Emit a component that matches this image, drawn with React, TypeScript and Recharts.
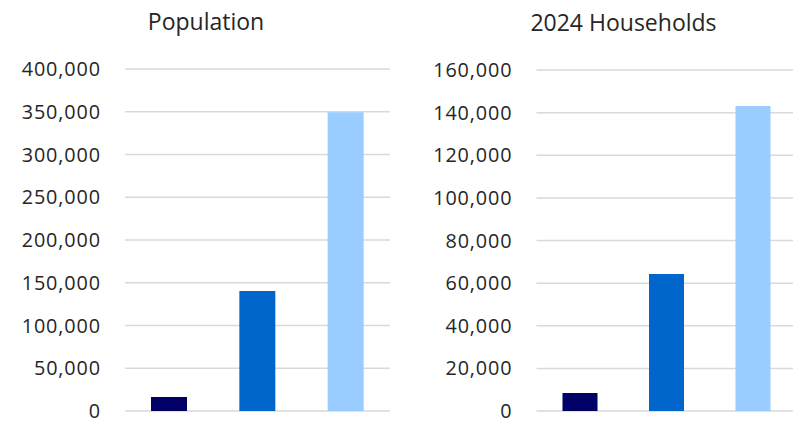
import React from 'react';
import { BarChart, Bar, XAxis, YAxis, CartesianGrid, Cell } from 'recharts';

const categories = ['Area 1', 'Area 2', 'Area 3'];
const populationValues = [16400, 140400, 349500];
const householdValues = [8400, 64300, 143100];
const barColors = ['#000066', '#0066CC', '#99CCFF'];
const populationTicks = [0, 50000, 100000, 150000, 200000, 250000, 300000, 350000, 400000];
const householdTicks = [0, 20000, 40000, 60000, 80000, 100000, 120000, 140000, 160000];
const titles = ['Population', '2024 Households'];

const populationData = categories.map((c, i) => ({ name: c, value: populationValues[i] }));
const householdData = categories.map((c, i) => ({ name: c, value: householdValues[i] }));

const fmt = (v: number) => v.toLocaleString('en-US');

const tickStyle = {
  fontFamily: '"Open Sans", sans-serif',
  fontSize: 19.8,
  fill: '#262626',
  letterSpacing: 0.9,
};

const titleStyle: React.CSSProperties = {
  fontFamily: '"Open Sans", sans-serif',
  fontSize: 23,
  fill: '#262626',
};

export default function App() {
  return (
    <div style={{ position: 'absolute', left: 0, top: 0, width: 793, height: 425, overflow: 'hidden', background: '#fff' }}>
      <div style={{ position: 'absolute', left: 0, top: 0 }}>
        <BarChart width={400} height={425} data={populationData} margin={{ top: 69, right: 10, bottom: 14, left: 0 }}>
          <CartesianGrid vertical={false} stroke="#d9d9d9" strokeWidth={1.5} />
          <XAxis dataKey="name" hide />
          <YAxis
            width={125}
            domain={[0, 400000]}
            ticks={populationTicks}
            tickFormatter={fmt}
            axisLine={false}
            tickLine={false}
            tickSize={0}
            tickMargin={24}
            tick={tickStyle}
            interval={0}
          />
          <Bar dataKey="value" barSize={36} isAnimationActive={false}>
            {populationData.map((d, i) => (
              <Cell key={d.name} fill={barColors[i]} />
            ))}
          </Bar>
        </BarChart>
      </div>
      <div style={{ position: 'absolute', left: 400, top: 0 }}>
        <BarChart width={400} height={425} data={householdData} margin={{ top: 70, right: 4, bottom: 14, left: 0 }}>
          <CartesianGrid vertical={false} stroke="#d9d9d9" strokeWidth={1.5} />
          <XAxis dataKey="name" hide />
          <YAxis
            width={136.5}
            domain={[0, 160000]}
            ticks={householdTicks}
            tickFormatter={fmt}
            axisLine={false}
            tickLine={false}
            tickSize={0}
            tickMargin={24}
            tick={tickStyle}
            interval={0}
          />
          <Bar dataKey="value" barSize={35} isAnimationActive={false}>
            {householdData.map((d, i) => (
              <Cell key={d.name} fill={barColors[i]} />
            ))}
          </Bar>
        </BarChart>
      </div>
      <svg width={793} height={45} style={{ position: 'absolute', left: 0, top: 0 }}>
        <text x={206} y={30} textAnchor="middle" style={titleStyle}>{titles[0]}</text>
        <text x={623.5} y={31} textAnchor="middle" style={titleStyle}>{titles[1]}</text>
      </svg>
    </div>
  );
}
